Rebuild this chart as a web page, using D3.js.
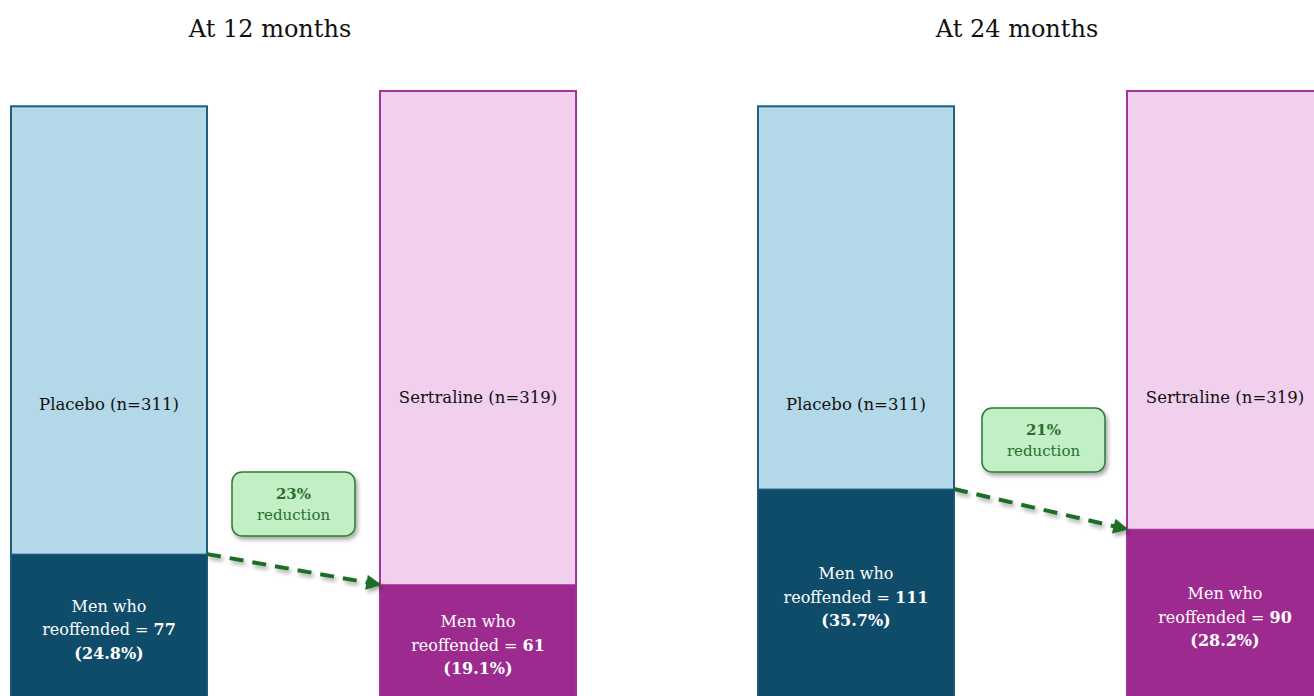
<!DOCTYPE html>
<html><head><meta charset="utf-8">
<script src="https://cdn.jsdelivr.net/npm/d3@7"></script>
<style>html,body{margin:0;padding:0;background:#fff;overflow:hidden}</style>
</head><body>
<script>
const periods = ["At 12 months", "At 24 months"];
const groups = ["Placebo", "Sertraline"];
const totals = [311, 319];
const reoffended12 = [77, 61];
const reoffended24 = [111, 90];
const pct12 = ["24.8%", "19.1%"];
const pct24 = ["35.7%", "28.2%"];
const reductions = ["23%", "21%"];

const W = 1314, H = 696;
const FONT = "'DejaVu Serif', 'Liberation Serif', serif";
const svg = d3.select("body").append("svg").attr("width", W).attr("height", H);

const defs = svg.append("defs");
const f = defs.append("filter").attr("id","shadow").attr("x","-20%").attr("y","-20%").attr("width","150%").attr("height","160%");
f.append("feDropShadow").attr("dx",2).attr("dy",3).attr("stdDeviation",2).attr("flood-color","#000").attr("flood-opacity",0.35);
defs.append("marker").attr("id","arrow").attr("viewBox","0 0 10 10").attr("refX",9).attr("refY",5)
  .attr("markerWidth",4).attr("markerHeight",3.8).attr("orient","auto").attr("markerUnits","strokeWidth")
  .append("path").attr("d","M0,0L10,5L0,10Z").attr("fill","#1f6e27");

const xPanel = d3.scaleBand().domain(periods).range([11, 11 + 747 * 2]);
const xGroup = d3.scaleBand().domain(groups).range([0, 565]).paddingInner(0.4688).paddingOuter(0);
const y = d3.scaleLinear().domain([0, 319]).range([701.5, 91]);

const colors = {
  Placebo: {light: "#b3d8e8", dark: "#0e4c6a", stroke: "#1c5f82"},
  Sertraline: {light: "#f1d0ee", dark: "#9d2a8f", stroke: "#a3359c"}
};

const reoff = [reoffended12, reoffended24];
const pcts = [pct12, pct24];

periods.forEach((p, pi) => {
  const g = svg.append("g").attr("transform", `translate(${xPanel(p)},0)`);
  svg.append("text").attr("x", xPanel(p) + 259).attr("y", 37).attr("text-anchor","middle")
    .attr("font-family", FONT).attr("font-size", 24).attr("fill","#111").text(p);
  const bw = xGroup.bandwidth();
  groups.forEach((gr, gi) => {
    const x0 = xGroup(gr);
    const c = colors[gr];
    const r = reoff[pi][gi];
    g.append("rect").attr("x", x0).attr("y", y(totals[gi])).attr("width", bw)
      .attr("height", y(0) - y(totals[gi])).attr("fill", c.light).attr("stroke", c.stroke).attr("stroke-width", 2);
    g.append("rect").attr("x", x0).attr("y", y(r)).attr("width", bw)
      .attr("height", y(0) - y(r)).attr("fill", c.dark).attr("stroke", c.stroke).attr("stroke-width", 1);
    g.append("text").attr("x", x0 + bw / 2).attr("y", (y(totals[gi]) + y(0)) / 2 + 6.5)
      .attr("text-anchor","middle").attr("font-family", FONT).attr("font-size", 16.5).attr("fill","#111")
      .text(`${gr} (n=${totals[gi]})`);
    const cy = (y(r) + y(0)) / 2 + 2;
    const t = g.append("text").attr("text-anchor","middle").attr("font-family", FONT).attr("font-size", 16).attr("fill","#fff");
    t.append("tspan").attr("x", x0 + bw / 2).attr("y", cy - 18).text("Men who");
    const l2 = t.append("tspan").attr("x", x0 + bw / 2).attr("y", cy + 5.5);
    l2.append("tspan").text("reoffended = ");
    l2.append("tspan").attr("font-weight","bold").text(r);
    t.append("tspan").attr("x", x0 + bw / 2).attr("y", cy + 29).attr("font-weight","bold").text(`(${pcts[pi][gi]})`);
  });
  const xa = xGroup("Placebo") + bw, ya = y(reoff[pi][0]);
  const xb = xGroup("Sertraline"), yb = y(reoff[pi][1]);
  g.append("line").attr("x1", xa).attr("y1", ya).attr("x2", xb).attr("y2", yb)
    .attr("stroke", "#1f6e27").attr("stroke-width", 4).attr("stroke-dasharray","14,9")
    .attr("marker-end","url(#arrow)").attr("filter","url(#shadow)");
  const boxW = 123, boxH = 64;
  const bx = pi === 0 ? 221 : 224;
  const by = pi === 0 ? 472 : 408;
  g.append("rect").attr("x", bx).attr("y", by).attr("width", boxW).attr("height", boxH).attr("rx", 10)
    .attr("fill","#c2efc6").attr("stroke","#2d7a34").attr("stroke-width",1.5).attr("filter","url(#shadow)");
  g.append("text").attr("x", bx + boxW / 2).attr("y", by + 27).attr("text-anchor","middle")
    .attr("font-family", FONT).attr("font-size", 15).attr("font-weight","bold").attr("fill","#2a6e30").text(reductions[pi]);
  g.append("text").attr("x", bx + boxW / 2).attr("y", by + 48).attr("text-anchor","middle")
    .attr("font-family", FONT).attr("font-size", 15).attr("fill","#2a6e30").text("reduction");
});
</script>
</body></html>
